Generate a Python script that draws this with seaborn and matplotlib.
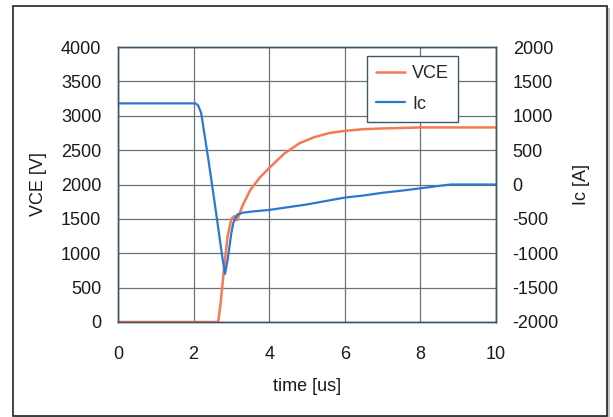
import matplotlib
matplotlib.use("Agg")
import matplotlib.pyplot as plt
from matplotlib.patches import Rectangle
from matplotlib.lines import Line2D
import seaborn as sns
import pandas as pd

sns.set_theme(style="white")
plt.rcParams['font.family'] = ['Liberation Sans', 'DejaVu Sans']

# Data
ic_time = [0, 2.05, 2.12, 2.2, 2.4, 2.6, 2.75, 2.83, 2.9, 3.0, 3.05, 3.15, 3.3, 3.6, 4.0,
           4.5, 5.0, 5.5, 6.0, 6.5, 7.0, 7.5, 8.0, 8.5, 8.8, 10]
ic_vals = [1180, 1180, 1150, 1040, 330, -430, -1020, -1300, -1100, -700, -560, -440, -410,
           -390, -370, -330, -290, -240, -190, -160, -120, -90, -55, -20, 0, 0]

vce_time = [0, 2.6, 2.65, 2.72, 2.8, 2.9, 3.0, 3.08, 3.15, 3.3, 3.5, 3.75, 4.0, 4.4, 4.8,
            5.2, 5.6, 6.0, 6.5, 7.0, 8.0, 9.0, 10]
vce_vals = [0, 0, 0, 300, 750, 1250, 1500, 1540, 1480, 1700, 1920, 2100, 2240, 2450, 2600,
            2690, 2750, 2780, 2805, 2815, 2830, 2830, 2830]

x_ticks = [0, 2, 4, 6, 8, 10]
vce_ticks = [0, 500, 1000, 1500, 2000, 2500, 3000, 3500, 4000]
ic_ticks = [-2000, -1500, -1000, -500, 0, 500, 1000, 1500, 2000]

vce_color = "#f57a52"
ic_color = "#2a78d0"
spine_color = "#3d5866"
grid_color = "#6a7478"

df_v = pd.DataFrame({"t": vce_time, "v": vce_vals})
df_i = pd.DataFrame({"t": ic_time, "i": ic_vals})

fig = plt.figure(figsize=(6.13, 4.17), dpi=100)
fig.patch.set_facecolor("white")

# outer frame with a soft shadow
fig.patches.append(Rectangle((16 / 613, 0.0), (607 - 13) / 613, (416 - 6) / 417 - 0.003,
                             transform=fig.transFigure, facecolor="#9a9a9a", edgecolor="none",
                             zorder=-2, alpha=0.6))
fig.patches.append(Rectangle((13 / 613, 1 - 416 / 417), (607 - 13) / 613, (416 - 6) / 417,
                             transform=fig.transFigure, facecolor="white", edgecolor="#222222",
                             linewidth=1.2, zorder=-1))

ax = fig.add_axes([118 / 613, 1 - 322 / 417, (496 - 118) / 613, (322 - 47) / 417])
ax.set_facecolor("none")
ax2 = ax.twinx()

sns.lineplot(data=df_v, x="t", y="v", ax=ax, color=vce_color, linewidth=1.8)
sns.lineplot(data=df_i, x="t", y="i", ax=ax2, color=ic_color, linewidth=1.6)

ax.set_xlim(0, 10)
ax.set_ylim(0, 4000)
ax2.set_ylim(-2000, 2000)
ax.set_xticks(x_ticks)
ax.set_yticks(vce_ticks)
ax2.set_yticks(ic_ticks)
ax.set_xticklabels([str(v) for v in x_ticks])
ax.set_yticklabels([str(v) for v in vce_ticks])
ax2.set_yticklabels([str(v) for v in ic_ticks])

ax.grid(True, color=grid_color, linewidth=0.9)
ax.set_axisbelow(True)
for a in (ax, ax2):
    a.tick_params(axis="both", length=0, labelsize=13, colors="#1a1a1a", pad=12)
    for s in a.spines.values():
        s.set_color(spine_color)
        s.set_linewidth(1.0)
ax.tick_params(axis="x", pad=17)

ax.set_xlabel("time [us]", fontsize=13, color="#1a1a1a", labelpad=11)
ax.set_ylabel("VCE [V]", fontsize=13, color="#1a1a1a", labelpad=10)
ax2.set_ylabel("Ic [A]", fontsize=13, color="#1a1a1a", labelpad=10)

handles = [Line2D([0], [0], color=vce_color, lw=1.8), Line2D([0], [0], color=ic_color, lw=1.6)]
leg = ax2.legend(handles, ["VCE", "Ic"], loc="upper left",
                 bbox_to_anchor=((367 - 118) / 378, 1 - (56 - 47) / 275),
                 fontsize=13, frameon=True, fancybox=False, borderaxespad=0,
                 handlelength=1.6, handletextpad=0.4, borderpad=0.5, labelspacing=0.75)
leg.get_frame().set_edgecolor(spine_color)
leg.get_frame().set_linewidth(1.0)
leg.get_frame().set_alpha(1)

fig.savefig("out.png", dpi=100)
